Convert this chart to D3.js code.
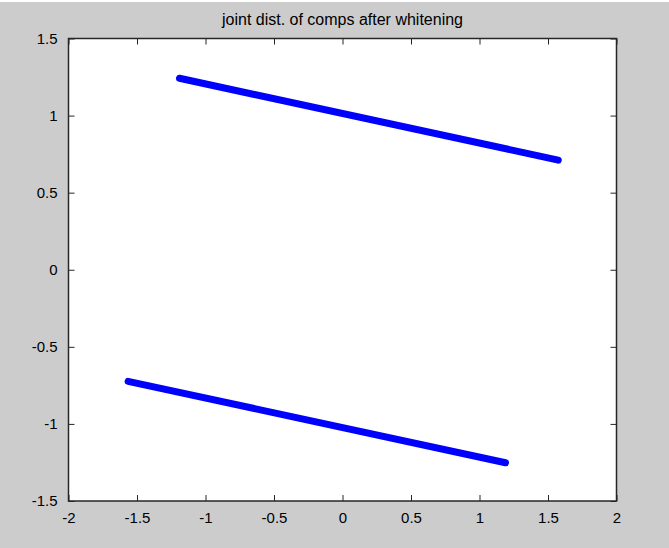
<!DOCTYPE html>
<html>
<head>
<meta charset="utf-8">
<script src="https://cdn.jsdelivr.net/npm/d3@7"></script>
<style>
  body { margin: 0; background: #cccccc; }
  svg { display: block; }
</style>
</head>
<body>
<div class="centered-box"></div>
<script>
// Values
var titleText = "joint dist. of comps after whitening";
var xTicks = [-2, -1.5, -1, -0.5, 0, 0.5, 1, 1.5, 2];
var yTicks = [-1.5, -1, -0.5, 0, 0.5, 1, 1.5];

// upper band of points (start, end)
var upperX = [-1.19, 1.575];
var upperY = [1.242, 0.711];
// lower band of points (start, end)
var lowerX = [-1.565, 1.19];
var lowerY = [-0.724, -1.252];

var width = 669, height = 548;
var margin = { top: 38.5, right: 52.5, bottom: 47, left: 68.5 };

var svg = d3.select(".centered-box").append("svg")
  .attr("width", width)
  .attr("height", height);

// background
svg.append("rect")
  .attr("width", width)
  .attr("height", height)
  .attr("fill", "#cccccc");
svg.append("rect")
  .attr("width", width)
  .attr("height", 2)
  .attr("fill", "#ffffff");

var xScale = d3.scaleLinear()
  .domain([-2, 2])
  .range([margin.left, width - margin.right]);

var yScale = d3.scaleLinear()
  .domain([-1.5, 1.5])
  .range([height - margin.bottom, margin.top]);

// plot area
svg.append("rect")
  .attr("x", xScale(-2))
  .attr("y", yScale(1.5))
  .attr("width", xScale(2) - xScale(-2))
  .attr("height", yScale(-1.5) - yScale(1.5))
  .attr("fill", "#ffffff");

// data bands
var line = d3.line()
  .x(d => xScale(d[0]))
  .y(d => yScale(d[1]));

[[upperX, upperY], [lowerX, lowerY]].forEach(function(s) {
  var pts = s[0].map((x, i) => [x, s[1][i]]);
  svg.append("path")
    .datum(pts)
    .attr("fill", "none")
    .attr("stroke", "#0000ff")
    .attr("stroke-width", 7)
    .attr("stroke-linecap", "round")
    .attr("d", line);
});

var fontFam = "'Liberation Sans Narrow', 'Liberation Sans', Arial, sans-serif";
var fmt = d => String(d); // plain hyphen minus like the original

// axes with inward ticks on all sides
svg.append("g")
  .attr("transform", "translate(0," + yScale(-1.5) + ")")
  .call(d3.axisBottom(xScale).tickValues(xTicks).tickSizeInner(-6).tickSizeOuter(0).tickPadding(11).tickFormat(fmt))
  .call(g => g.select(".domain").remove());

svg.append("g")
  .attr("transform", "translate(0," + yScale(1.5) + ")")
  .call(d3.axisTop(xScale).tickValues(xTicks).tickSizeInner(-6).tickSizeOuter(0).tickFormat(""))
  .call(g => g.select(".domain").remove());

svg.append("g")
  .attr("transform", "translate(" + xScale(-2) + ",0)")
  .call(d3.axisLeft(yScale).tickValues(yTicks).tickSizeInner(-6).tickSizeOuter(0).tickPadding(11).tickFormat(fmt))
  .call(g => g.select(".domain").remove());

svg.append("g")
  .attr("transform", "translate(" + xScale(2) + ",0)")
  .call(d3.axisRight(yScale).tickValues(yTicks).tickSizeInner(-6).tickSizeOuter(0).tickFormat(""))
  .call(g => g.select(".domain").remove());

svg.selectAll(".tick line").attr("stroke", "#262626");
svg.selectAll(".tick text")
  .attr("fill", "#000000")
  .style("font-family", fontFam)
  .style("font-size", "15px");

// box
svg.append("rect")
  .attr("x", xScale(-2))
  .attr("y", yScale(1.5))
  .attr("width", xScale(2) - xScale(-2))
  .attr("height", yScale(-1.5) - yScale(1.5))
  .attr("fill", "none")
  .attr("stroke", "#262626")
  .attr("stroke-width", 1.5);

// title
svg.append("text")
  .attr("x", (xScale(-2) + xScale(2)) / 2)
  .attr("y", 25)
  .attr("text-anchor", "middle")
  .style("font-family", fontFam)
  .style("font-size", "16px")
  .attr("fill", "#000000")
  .text(titleText);
</script>
</body>
</html>
